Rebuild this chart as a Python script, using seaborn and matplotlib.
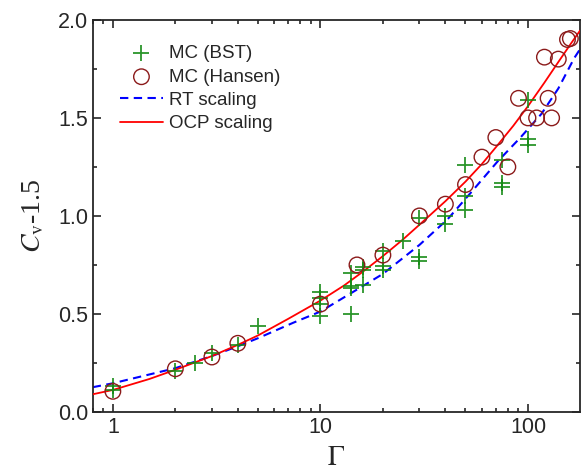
import matplotlib
matplotlib.use("Agg")
import matplotlib.pyplot as plt
import matplotlib.ticker as mticker
import seaborn as sns

# MC (BST) data points
bst_gamma = [1, 1, 2, 2.5, 3, 4, 5,
             10, 10, 10, 10, 14, 14, 14, 14, 16, 16, 16,
             20, 20, 20, 25, 30, 30, 30, 40, 40,
             50, 50, 50, 75, 75, 75, 100, 100, 100]
bst_cv = [0.13, 0.11, 0.21, 0.25, 0.30, 0.34, 0.44,
          0.61, 0.58, 0.55, 0.49, 0.71, 0.64, 0.63, 0.50, 0.74, 0.725, 0.65,
          0.82, 0.745, 0.725, 0.87, 0.99, 0.79, 0.77, 1.00, 0.96,
          1.26, 1.10, 1.03, 1.285, 1.17, 1.15, 1.59, 1.39, 1.36]

# MC (Hansen) data points
hansen_gamma = [1, 2, 3, 4, 10, 15, 20, 30, 40, 50, 60, 70, 80, 90,
                100, 110, 120, 125, 130, 140, 155, 160]
hansen_cv = [0.105, 0.22, 0.28, 0.35, 0.55, 0.75, 0.80, 1.00, 1.06, 1.16,
             1.30, 1.40, 1.25, 1.60, 1.50, 1.50, 1.81, 1.60, 1.50, 1.80,
             1.90, 1.905]

# RT scaling curve
rt_gamma = [0.8, 1, 2, 3, 4, 5, 7.4, 10, 14, 20, 30, 41, 53, 71, 92,
            116, 140, 167, 178]
rt_cv = [0.126, 0.146, 0.223, 0.285, 0.335, 0.376, 0.455, 0.512, 0.605,
         0.704, 0.852, 0.983, 1.118, 1.275, 1.40, 1.52, 1.65, 1.805, 1.85]

# OCP scaling curve
ocp_gamma = [0.8, 1, 1.5, 2, 3, 4, 5, 7, 10, 13, 16, 20, 25, 30, 40, 50,
             60, 70, 85, 100, 120, 140, 160, 178]
ocp_cv = [0.09, 0.112, 0.168, 0.215, 0.285, 0.342, 0.39, 0.475, 0.568,
          0.645, 0.715, 0.795, 0.88, 0.955, 1.075, 1.175, 1.265, 1.35,
          1.46, 1.56, 1.68, 1.785, 1.875, 1.945]

sns.set_style("ticks")
plt.rcParams['font.family'] = ['Liberation Sans', 'DejaVu Sans']
plt.rcParams['mathtext.fontset'] = 'stix'
plt.rcParams['xtick.direction'] = 'in'
plt.rcParams['ytick.direction'] = 'in'

fig = plt.figure(figsize=(5.87, 4.74), dpi=100)
ax = fig.add_axes([0.158, 0.131, 0.83, 0.827])

sns.lineplot(x=rt_gamma, y=rt_cv, ax=ax, color='#0000ff', lw=1.5,
             linestyle=(0, (4, 2.6)), sort=False, estimator=None,
             label='RT scaling', zorder=2)
sns.lineplot(x=ocp_gamma, y=ocp_cv, ax=ax, color='#ff0000', lw=1.3,
             sort=False, estimator=None, label='OCP scaling', zorder=3)
sns.scatterplot(x=bst_gamma, y=bst_cv, ax=ax, marker='+', s=120,
                color='#138a13', linewidth=1.3, alpha=0.9,
                label='MC (BST)', zorder=4)
sns.scatterplot(x=hansen_gamma, y=hansen_cv, ax=ax, marker='o', s=125,
                color='#8b1a1a', facecolor='none', edgecolor='#8b1a1a',
                linewidth=1.0, label='MC (Hansen)', zorder=5)

ax.set_xscale('log')
ax.set_xlim(0.8, 178)
ax.set_ylim(0, 2.0)
ax.xaxis.set_major_locator(mticker.FixedLocator([1, 10, 100]))
ax.xaxis.set_major_formatter(mticker.FixedFormatter(['1', '10', '100']))
ax.xaxis.set_minor_locator(mticker.LogLocator(base=10, subs=range(2, 10)))
ax.xaxis.set_minor_formatter(mticker.NullFormatter())
ax.yaxis.set_major_locator(mticker.MultipleLocator(0.5))
ax.yaxis.set_minor_locator(mticker.MultipleLocator(0.25))
ax.yaxis.set_major_formatter(mticker.FormatStrFormatter('%.1f'))

ax.tick_params(which='both', top=True, right=True, direction='in',
               width=1.2, labelsize=15.5)
ax.tick_params(which='major', length=5.5)
ax.tick_params(which='minor', length=3)
for sp in ax.spines.values():
    sp.set_linewidth(1.3)
    sp.set_visible(True)

ax.set_xlabel(r'$\Gamma$', fontsize=20, fontfamily='Liberation Serif',
              labelpad=6)
ax.set_ylabel(r'$C_{\mathrm{v}}$-1.5', fontsize=20,
              fontfamily='Liberation Serif', labelpad=8)

handles, labels = ax.get_legend_handles_labels()
order = [labels.index(l) for l in ['MC (BST)', 'MC (Hansen)', 'RT scaling', 'OCP scaling']]
ax.legend([handles[i] for i in order], [labels[i] for i in order],
          loc='upper left', bbox_to_anchor=(0.048, 0.945), frameon=False,
          fontsize=13.5, handlelength=2.3, handletextpad=0.3,
          labelspacing=0.33, borderpad=0.2, borderaxespad=0)

plt.savefig("out.png", dpi=100)
